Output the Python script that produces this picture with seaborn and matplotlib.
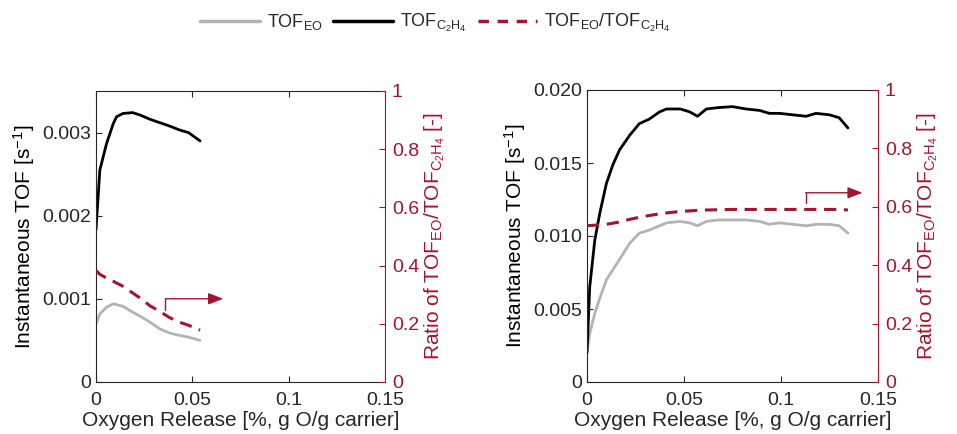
import matplotlib.pyplot as plt
import pandas as pd
import seaborn as sns
from matplotlib.lines import Line2D

# left panel: short run
left_x = [0.0, 0.002, 0.0055, 0.009, 0.0107, 0.014, 0.019, 0.023, 0.028, 0.033,
          0.038, 0.0435, 0.048, 0.054]
left_c2h4 = [0.00183, 0.00255, 0.00287, 0.00311, 0.00319, 0.00323, 0.00324, 0.00321,
             0.00316, 0.00312, 0.00308, 0.00303, 0.00300, 0.00290]
left_eo = [0.00070, 0.00082, 0.00090, 0.00094, 0.00093, 0.00091, 0.00084, 0.00079,
           0.00072, 0.00064, 0.00059, 0.00056, 0.00054, 0.00050]
left_ratio = [0.383, 0.370, 0.357, 0.346, 0.340, 0.329, 0.306, 0.288, 0.262, 0.243,
              0.222, 0.205, 0.195, 0.178]

# right panel: long run
right_x = [0.0, 0.0014, 0.004, 0.0065, 0.010, 0.0134, 0.0168, 0.022, 0.027, 0.032,
           0.0374, 0.041, 0.048, 0.053, 0.057, 0.0615, 0.068, 0.075, 0.082, 0.089,
           0.094, 0.0993, 0.106, 0.113, 0.118, 0.125, 0.130, 0.1345]
right_c2h4 = [0.0020, 0.0065, 0.0097, 0.0115, 0.0136, 0.0149, 0.0159, 0.0169, 0.0177,
              0.0180, 0.0185, 0.0187, 0.0187, 0.0185, 0.0182, 0.0187, 0.0188, 0.01886,
              0.0187, 0.0186, 0.0184, 0.0184, 0.0183, 0.0182, 0.0184, 0.0183, 0.0181,
              0.0174]
right_eo = [0.0021, 0.0033, 0.0047, 0.0057, 0.0070, 0.0077, 0.0084, 0.0095, 0.0102,
            0.0104, 0.0107, 0.0109, 0.0110, 0.0109, 0.0107, 0.0110, 0.0111, 0.0111,
            0.0111, 0.0110, 0.0108, 0.0109, 0.0108, 0.0107, 0.0108, 0.0108, 0.0107,
            0.0102]
right_ratio = [0.535, 0.536, 0.537, 0.538, 0.540, 0.544, 0.548, 0.557, 0.564, 0.570,
               0.576, 0.579, 0.584, 0.586, 0.588, 0.589, 0.590, 0.591, 0.591, 0.591,
               0.591, 0.591, 0.591, 0.591, 0.591, 0.591, 0.591, 0.589]

# "read on right axis" arrows: (x, y_start, y_corner, x_end)
left_arrow = (0.036, 0.246, 0.286, 0.066)
right_arrow = (0.1127, 0.614, 0.648, 0.142)

GRAY = "#b3b3b3"
RED = "#a2142f"
AXC = "#262626"

sns.set_style("white")
plt.rcParams["font.family"] = ["Liberation Sans", "DejaVu Sans"]
plt.rcParams["mathtext.fontset"] = "custom"
plt.rcParams["mathtext.rm"] = "Liberation Sans"
plt.rcParams["mathtext.it"] = "Liberation Sans"
plt.rcParams["mathtext.default"] = "regular"

W, H = 957, 434
fig = plt.figure(figsize=(W / 100, H / 100), dpi=100)


def panel(rect, x, eo, c2h4, ratio, ymax, yticks, arrow):
    ax = fig.add_axes(rect)
    df = pd.DataFrame({"x": x, "eo": eo, "c2h4": c2h4, "ratio": ratio})
    sns.lineplot(data=df, x="x", y="eo", color=GRAY, lw=2, ax=ax)
    sns.lineplot(data=df, x="x", y="c2h4", color="black", lw=2, ax=ax)
    ax.set_xlim(0, 0.15)
    ax.set_ylim(0, ymax)
    ax.set_xticks([0, 0.05, 0.1, 0.15])
    ax.set_xticklabels(["0", "0.05", "0.1", "0.15"])
    ax.set_yticks(yticks)
    ax.set_yticklabels(["0" if v == 0 else f"{v:.3f}" for v in yticks])
    ax.tick_params(direction="in", length=4, colors=AXC, labelsize=14,
                   top=True, right=False, bottom=True, left=True, width=0.8)
    ax.tick_params(axis="x", pad=7)
    ax.set_xlabel("Oxygen Release [%, g O/g carrier]", fontsize=15, color=AXC,
                  labelpad=2)
    ax.set_ylabel("Instantaneous TOF [s$^{-1}$]", fontsize=15, color="black",
                  labelpad=4)
    for s in ["left", "bottom", "top"]:
        ax.spines[s].set_color(AXC)
        ax.spines[s].set_linewidth(0.8)
    ax.spines["right"].set_visible(False)

    ax2 = ax.twinx()
    sns.lineplot(data=df, x="x", y="ratio", color=RED, lw=2.2, ls=(0, (4, 2.5)), ax=ax2)
    ax2.set_ylim(0, 1)
    ax2.set_yticks([0, 0.2, 0.4, 0.6, 0.8, 1])
    ax2.set_yticklabels(["0", "0.2", "0.4", "0.6", "0.8", "1"])
    ax2.tick_params(direction="in", length=4, colors=RED, labelsize=14,
                    right=True, left=False, width=0.8, pad=5)
    ax2.set_ylabel("Ratio of TOF$_{EO}$/TOF$_{C_2H_4}$ [-]", fontsize=15, color=RED,
                   labelpad=2)
    for s in ["left", "bottom", "top"]:
        ax2.spines[s].set_visible(False)
    ax2.spines["right"].set_color(RED)
    ax2.spines["right"].set_linewidth(0.8)

    ax0, y0, y1, x1 = arrow
    ax2.plot([ax0, ax0], [y0, y1], color=RED, lw=1)
    ax2.annotate("", xy=(x1, y1), xytext=(ax0, y1),
                 arrowprops=dict(arrowstyle="-|>,head_length=0.9,head_width=0.35",
                                 color=RED, lw=1, shrinkA=0, shrinkB=0))
    return ax, ax2


panel([96 / W, 52 / H, 289 / W, 291 / H], left_x, left_eo, left_c2h4, left_ratio,
      0.0035, [0, 0.001, 0.002, 0.003], left_arrow)
panel([587 / W, 52 / H, 291 / W, 292 / H], right_x, right_eo, right_c2h4, right_ratio,
      0.020, [0, 0.005, 0.010, 0.015, 0.020], right_arrow)

handles = [
    Line2D([], [], color=GRAY, lw=2.5),
    Line2D([], [], color="black", lw=2.5),
    Line2D([], [], color=RED, lw=2.5, ls=(0, (3, 2.5))),
]
labels = ["TOF$_{EO}$", "TOF$_{C_2H_4}$", "TOF$_{EO}$/TOF$_{C_2H_4}$"]
fig.legend(handles, labels, loc="upper center", bbox_to_anchor=(0.455, 1.01), ncol=3,
           frameon=False, fontsize=13, handlelength=3.3, columnspacing=0.6,
           handletextpad=0.4)

fig.savefig("out.png", dpi=100)
